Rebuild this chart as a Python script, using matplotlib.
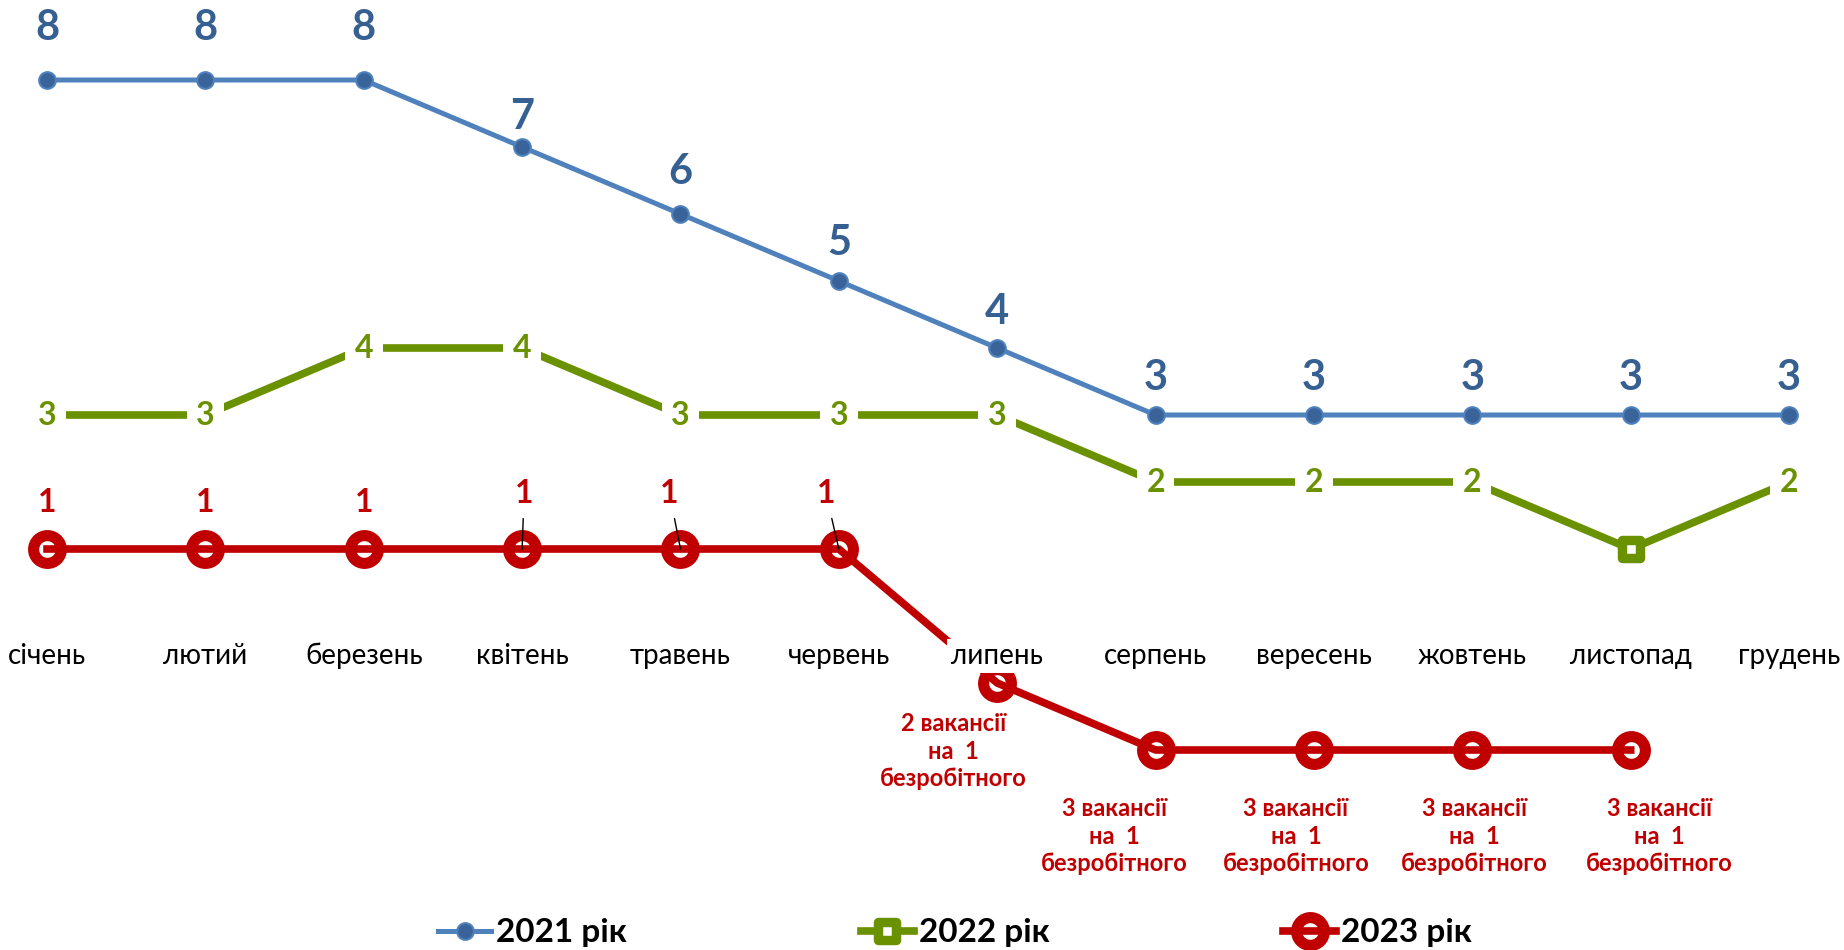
import numpy as np
import matplotlib
matplotlib.use('Agg')
import matplotlib.pyplot as plt
from matplotlib.markers import MarkerStyle

plt.rcParams['font.family'] = ['Lato', 'DejaVu Sans']

# --- data ---
months = ['січень', 'лютий', 'березень', 'квітень', 'травень', 'червень',
          'липень', 'серпень', 'вересень', 'жовтень', 'листопад', 'грудень']
y2021 = [8, 8, 8, 7, 6, 5, 4, 3, 3, 3, 3, 3]
y2022 = [3, 3, 4, 4, 3, 3, 3, 2, 2, 2, 1, 2]
y2023 = [1, 1, 1, 1, 1, 1, -1, -2, -2, -2, -2, np.nan]
labels2022 = ['3', '3', '4', '4', '3', '3', '3', '2', '2', '2', '', '2']
labels2023 = ['1', '1', '1', '1', '1', '1',
              '2 вакансії\nна  1\nбезробітного',
              '3 вакансії\nна  1\nбезробітного',
              '3 вакансії\nна  1\nбезробітного',
              '3 вакансії\nна  1\nбезробітного',
              '3 вакансії\nна  1\nбезробітного', '']
series_names = ['2021 рік', '2022 рік', '2023 рік']

# label placement (pixel offsets)
off2021 = [52, 52, 52, 30, 42, 38, 36, 37, 37, 37, 37, 37]
off2023 = [(0, 47), (0, 47), (0, 47), (2, 56), (-11, 56), (-13, 56),
           (-44, -68), (-41, -86), (-18, -86), (2, -86), (29, -86), (0, 0)]
leaders = [False, False, False, True, True, True, False, False, False, False, False, False]

BLUE = '#4F81BD'
BLUE_DARK = '#376092'
GREEN = '#6A9100'
RED = '#C00000'

fig = plt.figure(figsize=(18.44, 9.5), dpi=100)
ax = fig.add_axes([0, 0, 1, 1])
ax.axis('off')
x = np.arange(len(months))
ax.set_xlim(-0.297, 11.347)
ax.set_ylim(-4.985, 9.194)

ax.plot(x, y2021, color=BLUE, lw=3.6, marker='o', ms=12, mfc='#3A6399',
        mec=BLUE, mew=1.5, label=series_names[0], zorder=3)
sq = MarkerStyle('s', joinstyle='round')
ax.plot(x, y2022, color=GREEN, lw=5.5, marker=sq, ms=12.6, mfc='white',
        mec=GREEN, mew=6.8, label=series_names[1], zorder=3)
ax.plot(x, y2023, color=RED, lw=5.5, marker='o', ms=20, mfc='none',
        mec=RED, mew=8, label=series_names[2], zorder=3)

for xi, v, off in zip(x, y2021, off2021):
    ax.annotate(str(v), (xi, v), xytext=(0, off), textcoords='offset pixels',
                ha='center', va='center', fontsize=30, fontweight='bold',
                color=BLUE_DARK, zorder=6)

for xi, v, t in zip(x, y2022, labels2022):
    if t:
        ax.annotate(t, (xi, v), ha='center', va='center', fontsize=23,
                    fontweight='bold', color=GREEN, zorder=6,
                    bbox=dict(boxstyle='square,pad=0.3', fc='white', ec='none'))

for xi, v, t, off, lead in zip(x, y2023, labels2023, off2023, leaders):
    if not t:
        continue
    size = 23 if len(t) < 3 else 17
    kw = {}
    if lead:
        kw['arrowprops'] = dict(arrowstyle='-', color='black', lw=1,
                                shrinkA=6, shrinkB=0)
    ax.annotate(t, (xi, v), xytext=off, textcoords='offset pixels',
                ha='center', va='center', fontsize=size, fontweight='bold',
                color=RED, linespacing=1.25, zorder=6, **kw)

for xi, m in zip(x, months):
    ax.text(xi, -0.6, m, ha='center', va='center', fontsize=20, color='black',
            zorder=5, bbox=dict(boxstyle='square,pad=0.15', fc='white', ec='none'))

leg = ax.legend(loc='center', bbox_to_anchor=(0.518, 0.018),
                bbox_transform=fig.transFigure, ncol=3, frameon=False,
                handlelength=1.6, handletextpad=0.15,
                columnspacing=7.0, prop={'weight': 'bold', 'size': 24})

fig.savefig('out.png', dpi=100)
